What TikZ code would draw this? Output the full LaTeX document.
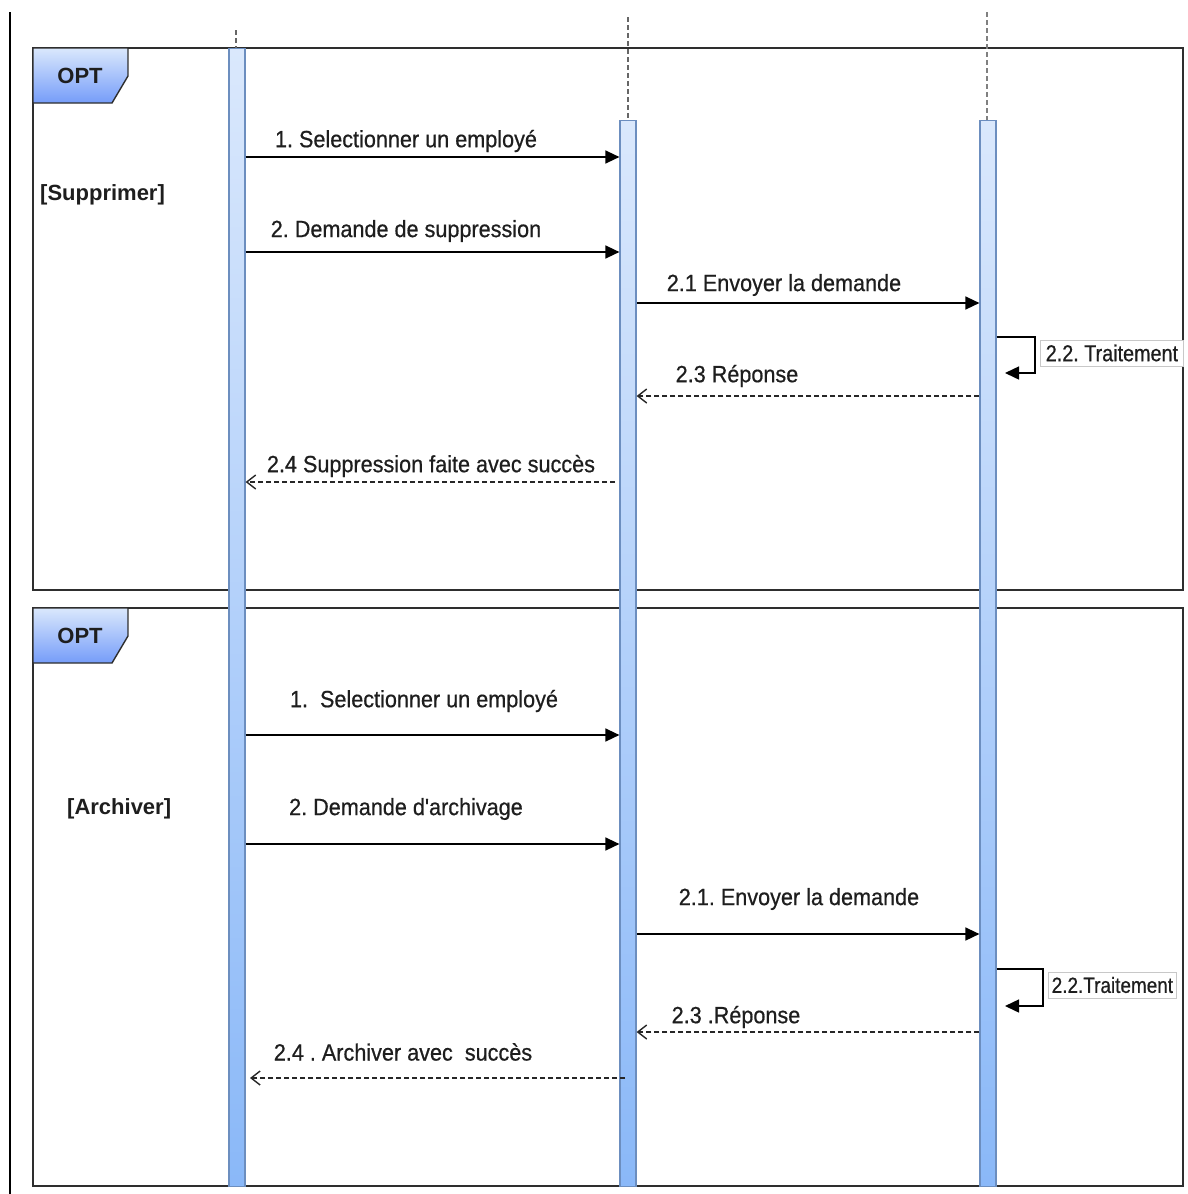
\documentclass[tikz,border=0pt]{standalone}
\usepackage{fontspec}
\setmainfont{Liberation Sans}
\newfontfamily\narrowsans[FakeStretch=0.92,FakeBold=0.6]{Liberation Sans}
\newfontfamily\tightsans[FakeStretch=0.86,FakeBold=0.6]{Liberation Sans}
\usetikzlibrary{arrows.meta}

\definecolor{framegray}{HTML}{2E2E2E}
\definecolor{barline}{HTML}{6C8EBF}
\definecolor{barlight}{HTML}{DAE8FC}
\definecolor{bardark}{HTML}{8AB8F8}
\definecolor{txt}{HTML}{1E1E1E}
\definecolor{boxgray}{HTML}{C8C8C8}

\tikzset{
  frame/.style={draw=framegray, line width=1.8pt},
  lifebar/.style={draw=barline, line width=1.2pt, top color=barlight, bottom color=bardark,
    minimum width=16pt, inner sep=0pt, anchor=north},
  lifetail/.style={draw=gray!80!black, line width=1.8pt, dash pattern=on 5pt off 3pt},
  msg/.style={draw=black, line width=1.5pt, -{Triangle[length=14pt,width=13pt]}},
  reply/.style={draw=black!85, line width=1.3pt, dash pattern=on 5pt off 3pt,
    -{Straight Barb[length=9pt,width=14pt,line width=1.4pt]}},
  msglabel/.style={font=\narrowsans\fontsize{23.5}{27}\selectfont, text=txt, inner sep=0pt},
  guard/.style={font=\bfseries\fontsize{22}{26}\selectfont, text=txt, inner sep=0pt, anchor=west},
  optlabel/.style={font=\bfseries\fontsize{22}{26}\selectfont, text=txt, inner sep=0pt},
  selflabel/.style={text=txt, draw=boxgray, line width=0.8pt, fill=white, anchor=west,
    inner xsep=2pt, inner ysep=2pt, minimum height=26pt},
  tab/.style={draw=framegray, line width=1.4pt, top color=barlight, bottom color=bardark!85!blue},
}

\begin{document}
\frenchspacing
\begin{tikzpicture}[x=1pt, y=-1pt]
  \useasboundingbox (0,0) rectangle (1187,1194);

  % left margin rule
  \draw[line width=1.4pt, black] (10,12) -- (10,1194);

  % combined fragments
  \draw[frame] (33,48) rectangle (1183,590);
  \draw[frame] (33,608) rectangle (1183,1186);

  % fragment operator tabs
  \path[tab] (33,48) -- (128,48) -- (128,76) -- (112,103) -- (33,103) -- cycle;
  \node[optlabel] (opt1) at (80,76) {OPT};
  \path[tab] (33,608) -- (128,608) -- (128,636) -- (112,663) -- (33,663) -- cycle;
  \node[optlabel] (opt2) at (80,636) {OPT};

  % guards
  \node[guard] (g1) at (40,195) {[Supprimer]};
  \node[guard] (g2) at (67,809) {[Archiver]};

  % lifeline tails
  \coordinate (t1) at (236,30);
  \coordinate (t2) at (628,17);
  \coordinate (t3) at (987,12);

  % activation bars
  \node[lifebar, minimum height=1138pt] (b1) at (237,48) {};
  \node[lifebar, minimum height=1066pt] (b2) at (628,120) {};
  \node[lifebar, minimum height=1066pt] (b3) at (988,120) {};

  \draw[lifetail] (t1) -- (b1.north -| t1);
  \draw[lifetail] (t2) -- (b2.north -| t2);
  \draw[lifetail, draw=gray] (t3) -- (b3.north -| t3);

  % message levels
  \coordinate (y1) at (0,157);
  \coordinate (y2) at (0,252);
  \coordinate (y3) at (0,303);
  \coordinate (y5) at (0,396);
  \coordinate (y6) at (0,482);
  \coordinate (z1) at (0,735);
  \coordinate (z2) at (0,844);
  \coordinate (z3) at (0,934);
  \coordinate (z5) at (0,1032);
  \coordinate (z6) at (0,1078);

  % ---- Supprimer ----
  \draw[msg] (b1.east |- y1) -- (b2.west |- y1);
  \node[msglabel] (l1) at (406,141) {1. Selectionner un employé};

  \draw[msg] (b1.east |- y2) -- (b2.west |- y2);
  \node[msglabel] (l2) at (406,231) {2. Demande de suppression};

  \draw[msg] (b2.east |- y3) -- (b3.west |- y3);
  \node[msglabel] (l3) at (784,285) {2.1 Envoyer la demande};

  \coordinate (s1a) at (1035,337);
  \coordinate (s1b) at (1005,373);
  \draw[msg] (b3.east |- s1a) -- (s1a) |- (s1b);
  \node[selflabel, font=\tightsans\fontsize{23}{27}\selectfont, minimum width=143pt]
    (l4) at (1040,353) {2.2. Traitement};

  \draw[reply] (b3.west |- y5) -- (b2.east |- y5);
  \node[msglabel] (l5) at (737,376) {2.3 Réponse};

  \coordinate (r6) at (615,482);
  \draw[reply] (r6) -- (b1.east |- y6);
  \node[msglabel] (l6) at (431,466) {2.4 Suppression faite avec succès};

  % ---- Archiver ----
  \draw[msg] (b1.east |- z1) -- (b2.west |- z1);
  \node[msglabel] (k1) at (424,701) {1.\ \ Selectionner un employé};

  \draw[msg] (b1.east |- z2) -- (b2.west |- z2);
  \node[msglabel] (k2) at (406,809) {2. Demande d\symbol{39}archivage};

  \draw[msg] (b2.east |- z3) -- (b3.west |- z3);
  \node[msglabel] (k3) at (799,899) {2.1. Envoyer la demande};

  \coordinate (s2a) at (1043,969);
  \coordinate (s2b) at (1005,1006);
  \draw[msg] (b3.east |- s2a) -- (s2a) |- (s2b);
  \node[selflabel, font=\tightsans\fontsize{22}{26}\selectfont, minimum width=128pt]
    (k4) at (1048,985) {2.2.Traitement};

  \draw[reply] (b3.west |- z5) -- (b2.east |- z5);
  \node[msglabel] (k5) at (736,1017) {2.3 .Réponse};

  \coordinate (r7) at (625,1078);
  \coordinate (r7e) at (250,1078);
  \draw[reply] (r7) -- (r7e);
  \node[msglabel] (k6) at (403,1052) {2.4 . Archiver avec\ \ succès};
\end{tikzpicture}
\end{document}
